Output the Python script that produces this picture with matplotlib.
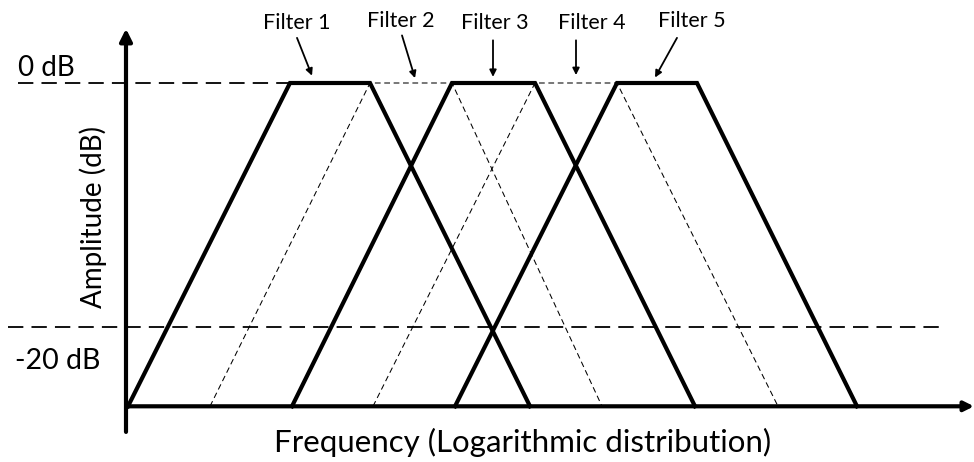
import matplotlib
matplotlib.use("Agg")
import matplotlib.pyplot as plt

# ---- data (frequency in arbitrary log-scaled units, amplitude in dB) ----
filter_names = ["Filter 1", "Filter 2", "Filter 3", "Filter 4", "Filter 5"]
left_foot = [2, 84, 166, 247, 329]
left_top = [164, 244, 326, 409, 491]
right_top = [244, 326, 409, 491, 571]
right_foot = [404, 476, 569, 652, 731]
thick_filter = [True, False, True, False, True]
top_db = 0.0
floor_db = -26.5
ref_levels_db = [0, -20]
ref_labels = ["0 dB", "-20 dB"]

# annotation positions (label x,y; arrow start; arrow tip)
label_x = [171, 275, 369, 466, 566]
label_y = [4.9, 5.1, 4.95, 4.95, 5.1]
arrow_from = [(171, 3.7), (276, 3.9), (367, 3.5), (450, 3.5), (551, 3.7)]
arrow_to = [(186, 0.6), (289, 0.4), (367, 0.5), (450, 0.65), (529, 0.45)]

px_per_db = 12.2
fig = plt.figure(figsize=(9.74, 4.62), dpi=100)
ax = fig.add_axes([0, 0, 1, 1])
ax.set_xlim(-126, 848)
ax.set_ylim(-(462 - 83) / px_per_db, 83 / px_per_db)
ax.axis("off")

font = "Lato"

# reference dashed lines
ax.plot([-108, 164], [ref_levels_db[0]] * 2, color="black", lw=1.3,
        ls=(0, (8.5, 4.5)), zorder=2)
ax.plot([-118, 814], [ref_levels_db[1]] * 2, color="black", lw=1.3,
        ls=(0, (8.5, 4.5)), zorder=2)

# filters
for i in range(len(filter_names)):
    xs = [left_foot[i], left_top[i], right_top[i], right_foot[i]]
    ys = [floor_db, top_db, top_db, floor_db]
    if thick_filter[i]:
        ax.plot(xs, ys, color="black", lw=3.0, solid_joinstyle="miter", zorder=4)
    else:
        ax.plot(xs, ys, color="black", lw=0.75, ls=(0, (5.5, 3.5)), zorder=3)

# axes with arrows
ax.annotate("", xy=(0, 4.45), xytext=(0, -28.6),
            arrowprops=dict(arrowstyle="-|>", lw=3.0, color="black",
                            mutation_scale=18, shrinkA=0, shrinkB=0), zorder=5)
ax.annotate("", xy=(848, floor_db), xytext=(0, floor_db),
            arrowprops=dict(arrowstyle="-|>", lw=3.0, color="black",
                            mutation_scale=14, shrinkA=0, shrinkB=0), zorder=5)

# filter labels and arrows
for i, name in enumerate(filter_names):
    ax.text(label_x[i], label_y[i], name, ha="center", va="center",
            fontsize=15.5, family=font)
    ax.annotate("", xy=arrow_to[i], xytext=arrow_from[i],
                arrowprops=dict(arrowstyle="-|>", lw=1.3, color="black",
                                mutation_scale=10, shrinkA=0, shrinkB=0))

# level labels
ax.text(-108, 1.25, ref_labels[0], ha="left", va="center", fontsize=20, family=font)
ax.text(-111, -22.8, ref_labels[1], ha="left", va="center", fontsize=20.5, family=font)

# axis titles
ax.text(-33, -11.0, "Amplitude (dB)", rotation=90, ha="center", va="center",
        fontsize=20, family=font)
ax.text(397, -29.5, "Frequency (Logarithmic distribution)", ha="center",
        va="center", fontsize=22.5, family=font)

fig.savefig("out.png", dpi=100)
